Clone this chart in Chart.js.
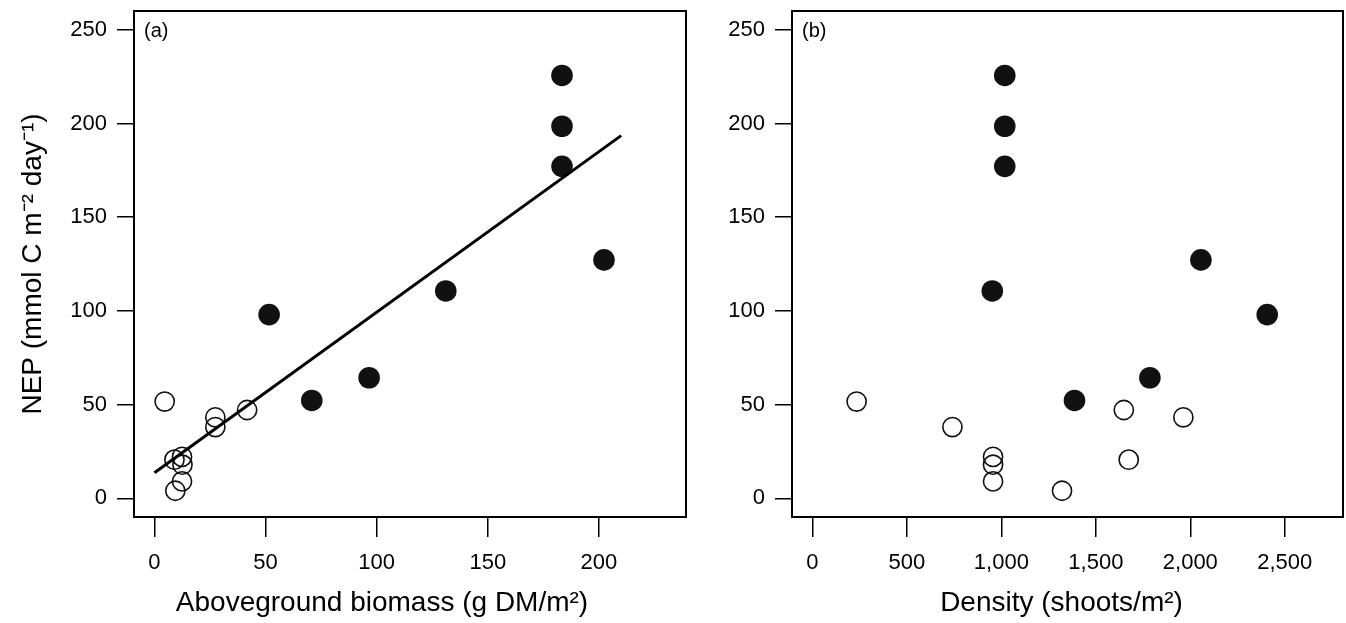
<!DOCTYPE html>
<html>
<head>
<meta charset="utf-8">
<script src="https://cdn.jsdelivr.net/npm/chart.js@4.4.0/dist/chart.umd.min.js"></script>
<style>
  body { margin: 0; background: #fff; }
  #wrap { position: relative; width: 1346px; height: 623px; }
  .panel { position: absolute; top: 0; height: 623px; }
</style>
</head>
<body>
<div id="wrap">
  <div class="panel" style="left:0;width:690px"><canvas id="chart_a"></canvas></div>
  <div class="panel" style="left:690px;width:656px"><canvas id="chart_b"></canvas></div>
</div>
<script>
// filled circles
const nepFilled = [225.6, 198.5, 177.1, 127.2, 110.6, 98.0, 64.3, 52.2];
const biomassFilled = [183.4, 183.4, 183.4, 202.3, 131.1, 51.6, 96.6, 70.8];
const densityFilled = [1018, 1018, 1018, 2056, 952, 2407, 1786, 1387];

// open circles
const nepOpen = [51.6, 43.2, 38.0, 47.1, 22.1, 20.6, 17.9, 9.0, 4.0];
const biomassOpen = [4.6, 27.4, 27.4, 41.7, 12.4, 9.0, 12.6, 12.4, 9.4];
const densityOpen = [234, 1963, 741, 1648, 956, 1674, 956, 956, 1321];

// regression line in panel (a)
const fitX = [0, 210];
const fitY = [13.6, 193.5];

const nepTicks = [0, 50, 100, 150, 200, 250];
const biomassTicks = [0, 50, 100, 150, 200];
const densityTicks = [0, 500, 1000, 1500, 2000, 2500];

const FONT = "'Liberation Sans', Arial, sans-serif";

function pts(xs, ys) {
  return xs.map((x, i) => ({ x: x, y: ys[i] }));
}

// box round the plot area, panel letter and x title
const boxPlugin = {
  id: "box",
  afterDraw(chart, args, opts) {
    const a = chart.chartArea;
    const ctx = chart.ctx;
    ctx.save();
    ctx.strokeStyle = "#000";
    ctx.lineWidth = 2;
    ctx.strokeRect(a.left, a.top, a.right - a.left, a.bottom - a.top);
    ctx.fillStyle = "#000";
    ctx.font = "20px " + FONT;
    ctx.textBaseline = "middle";
    ctx.textAlign = "left";
    ctx.fillText(opts.letter, a.left + 10, a.top + 20);
    // x axis title (panel (a) title sits a bit left of centre in the original)
    ctx.font = "28px " + FONT;
    ctx.textAlign = "center";
    ctx.fillText(opts.xTitle, (a.left + a.right) / 2 + opts.xTitleShift, 603);
    ctx.restore();
  },
};

function axisTicks(list) {
  return (scale) => {
    scale.ticks = list.map((v) => ({ value: v }));
  };
}

function makeChart(id, xFilled, xOpen, xTicks, xMin, xMax, xTitle, xTitleShift, letter, yWidth, padRight, withFit, withYTitle) {
  const datasets = [
    {
      label: "filled",
      data: pts(xFilled, nepFilled),
      pointRadius: 10.8,
      pointBackgroundColor: "#111",
      pointBorderColor: "#111",
      pointBorderWidth: 0,
      showLine: false,
    },
    {
      label: "open",
      data: pts(xOpen, nepOpen),
      pointRadius: 9.6,
      pointBackgroundColor: "rgba(0,0,0,0)",
      pointBorderColor: "#111",
      pointBorderWidth: 1.6,
      showLine: false,
    },
  ];
  if (withFit) {
    datasets.unshift({
      label: "fit",
      data: pts(fitX, fitY),
      showLine: true,
      borderColor: "#000",
      borderWidth: 3,
      pointRadius: 0,
    });
  }
  return new Chart(document.getElementById(id), {
    type: "scatter",
    data: { datasets: datasets },
    plugins: [boxPlugin],
    options: {
      responsive: true,
      maintainAspectRatio: false,
      animation: false,
      layout: { autoPadding: false, padding: { top: 11, right: padRight, bottom: 0, left: 0 } },
      plugins: {
        legend: { display: false },
        tooltip: { enabled: false },
        box: { letter: letter, xTitle: xTitle, xTitleShift: xTitleShift },
      },
      scales: {
        x: {
          type: "linear",
          min: xMin,
          max: xMax,
          afterBuildTicks: axisTicks(xTicks),
          afterFit: (s) => {
            s.height = 106;
            s.paddingLeft = 0;
            s.paddingRight = 0;
          },
          border: { display: false },
          grid: { drawOnChartArea: false, color: "#000", lineWidth: 1.5, tickLength: 20 },
          ticks: {
            color: "#000",
            font: { family: FONT, size: 22 },
            padding: 13,
            maxRotation: 0,
            callback: (v) => v.toLocaleString("en-US"),
          },
        },
        y: {
          type: "linear",
          min: -10,
          max: 260,
          afterBuildTicks: axisTicks(nepTicks),
          afterFit: (s) => {
            s.width = yWidth;
            s.paddingTop = 0;
            s.paddingBottom = 0;
          },
          border: { display: false },
          grid: { drawOnChartArea: false, color: "#000", lineWidth: 1.5, tickLength: 17 },
          ticks: {
            color: "#000",
            font: { family: FONT, size: 22 },
            padding: 10,
          },
          title: {
            display: withYTitle,
            text: "NEP (mmol C m\u207B\u00B2 day\u207B\u00B9)",
            color: "#000",
            font: { family: FONT, size: 28 },
            padding: { top: 16, bottom: 0 },
          },
        },
      },
    },
  });
}

makeChart("chart_a", biomassFilled, biomassOpen, biomassTicks, -9.2, 239.2,
  "Aboveground biomass (g DM/m\u00B2)", -28, "(a)", 134, 4, true, true);
makeChart("chart_b", densityFilled, densityOpen, densityTicks, -108, 2808,
  "Density (shoots/m\u00B2)", -6, "(b)", 102, 3, false, false);
</script>
</body>
</html>
